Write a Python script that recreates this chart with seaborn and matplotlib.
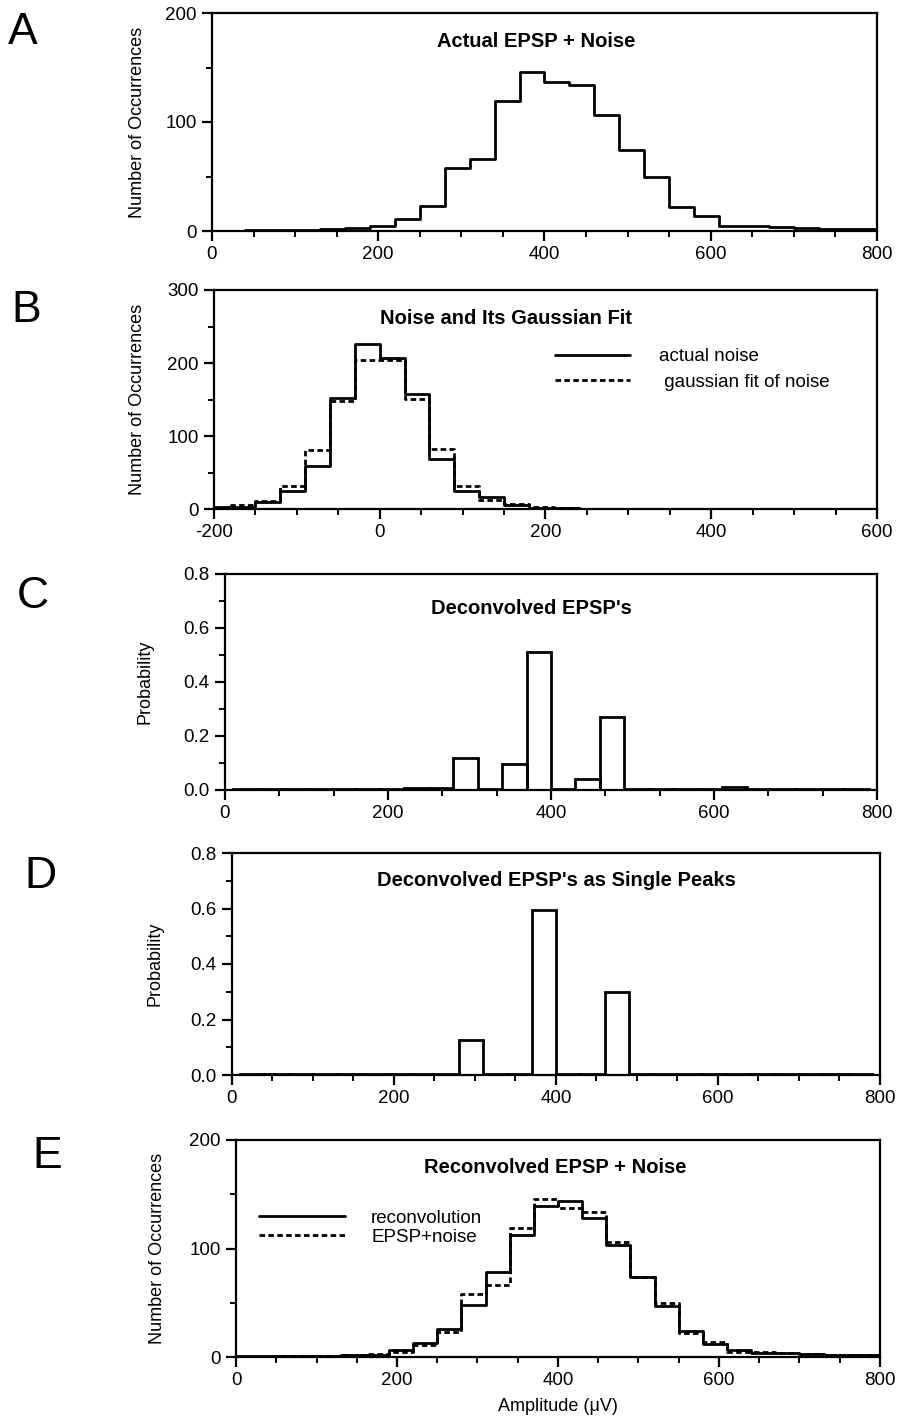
import matplotlib
matplotlib.use("Agg")
import matplotlib.pyplot as plt
from matplotlib.ticker import MultipleLocator, FormatStrFormatter
from matplotlib.lines import Line2D
import pandas as pd
import seaborn as sns

# ---------------- data ----------------
amp_edges = [-20, 10, 40, 70, 100, 130, 160, 190, 220, 250, 280, 310, 340, 370,
             400, 430, 460, 490, 520, 550, 580, 610, 640, 670, 700, 730, 760, 790, 820]
noise_edges = [-210, -180, -150, -120, -90, -60, -30, 0, 30, 60, 90, 120, 150, 180,
               210, 240, 270, 300, 330, 360, 390, 420, 450, 480, 510, 540, 570, 600]

# A / E: actual EPSP + noise counts
epsp_noise = [0, 0, 1, 1, 1, 2, 3, 5, 11, 23, 58, 66, 119, 146,
              137, 134, 106, 74, 50, 22, 14, 5, 5, 4, 3, 2, 2, 2]
# B: noise
actual_noise = [3, 3, 9, 25, 59, 152, 226, 207, 157, 69, 24, 17, 6, 2,
                1, 0, 0, 0, 0, 0, 0, 0, 0, 0, 0, 0, 0]
gaussian_fit = [2, 5, 11, 31, 81, 148, 204, 204, 151, 82, 31, 12, 7, 3,
                1, 0, 0, 0, 0, 0, 0, 0, 0, 0, 0, 0, 0]
# C: deconvolved EPSPs (probability)
deconvolved = [0.0, 0.003, 0.003, 0.003, 0.003, 0.003, 0.004, 0.005, 0.006, 0.006,
               0.12, 0.005, 0.095, 0.51, 0.005, 0.04, 0.27, 0.005, 0.005, 0.005,
               0.005, 0.012, 0.005, 0.005, 0.005, 0.005, 0.004, 0.0]
# D: deconvolved EPSPs as single peaks
single_peaks = [0.0, 0.003, 0.003, 0.003, 0.003, 0.003, 0.003, 0.003, 0.003, 0.003,
                0.126, 0.003, 0.003, 0.593, 0.003, 0.003, 0.30, 0.003, 0.003, 0.003,
                0.003, 0.003, 0.003, 0.003, 0.003, 0.003, 0.003, 0.0]
# E: reconvolution
reconvolution = [1, 1, 1, 1, 1, 2, 2, 6, 13, 26, 48, 78, 112, 139,
                 144, 128, 103, 74, 47, 24, 12, 6, 4, 4, 3, 2, 2, 2]

titles = ["Actual EPSP + Noise", "Noise and Its Gaussian Fit", "Deconvolved EPSP's",
          "Deconvolved EPSP's as Single Peaks", "Reconvolved EPSP + Noise"]
letters = ["A", "B", "C", "D", "E"]

# ---------------- style ----------------
sns.set_style("ticks")
plt.rcParams["font.family"] = ["Liberation Sans", "DejaVu Sans"]
plt.rcParams["axes.linewidth"] = 1.5
plt.rcParams["axes.unicode_minus"] = False
for k in ["text.color", "axes.labelcolor", "xtick.color", "ytick.color", "axes.edgecolor"]:
    plt.rcParams[k] = "black"

W, H = 904, 1426
fig = plt.figure(figsize=(W / 100, H / 100), dpi=100)

LW = 2.0
FS = 13.5


def add_axes(left, right, top, bottom):
    return fig.add_axes([left / W, 1 - bottom / H, (right - left) / W, (bottom - top) / H])


def hist(ax, edges, values, element, ls="-"):
    centers = [(a + b) / 2 for a, b in zip(edges[:-1], edges[1:])]
    df = pd.DataFrame({"x": centers, "w": values})
    sns.histplot(data=df, x="x", weights="w", bins=edges, element=element,
                 fill=False, color="black", linewidth=LW, linestyle=ls, ax=ax)


def style(ax, xlim, ylim, xmajor, xminor, ymajor, yminor, ylabel, ylx):
    ax.set_xlim(*xlim)
    ax.set_ylim(*ylim)
    ax.xaxis.set_major_locator(MultipleLocator(xmajor))
    ax.xaxis.set_minor_locator(MultipleLocator(xminor))
    ax.yaxis.set_major_locator(MultipleLocator(ymajor))
    ax.yaxis.set_minor_locator(MultipleLocator(yminor))
    ax.tick_params(which="major", direction="out", length=7, width=1.6,
                   labelsize=FS, colors="black", pad=4)
    ax.tick_params(which="minor", direction="out", length=4, width=1.4)
    for s in ax.spines.values():
        s.set_visible(True)
        s.set_color("black")
        s.set_linewidth(1.6)
    ax.set_xlabel("")
    ax.set_ylabel(ylabel, fontsize=13)
    ax.yaxis.set_label_coords(ylx, 0.5)


dash = (0, (2.0, 1.2))

# A
axA = add_axes(212, 877, 13, 231)
hist(axA, amp_edges, epsp_noise, "step")
style(axA, (0, 800), (0, 200), 200, 50, 100, 50, "Number of Occurrences", -0.099)

# B
axB = add_axes(214, 877, 290, 509)
hist(axB, noise_edges, actual_noise, "step")
hist(axB, noise_edges, gaussian_fit, "step", ls=dash)
style(axB, (-200, 600), (0, 300), 200, 50, 100, 50, "Number of Occurrences", -0.103)
hB = [Line2D([], [], color="black", lw=LW),
      Line2D([], [], color="black", lw=LW, linestyle=dash)]
axB.legend(hB, ["actual noise", " gaussian fit of noise"], loc="upper left",
           bbox_to_anchor=(0.515, 0.735), frameon=False, fontsize=FS,
           handlelength=4.0, handletextpad=1.5, labelspacing=0.45,
           borderpad=0, borderaxespad=0)

# C
axC = add_axes(225, 877, 574, 790)
hist(axC, amp_edges, deconvolved, "bars")
style(axC, (0, 800), (0, 0.8), 200, 200 / 3, 0.2, 0.1, "Probability", -0.11)
axC.yaxis.set_major_formatter(FormatStrFormatter("%.1f"))

# D
axD = add_axes(232, 880, 853, 1075)
hist(axD, amp_edges, single_peaks, "bars")
style(axD, (0, 800), (0, 0.8), 200, 50, 0.2, 0.1, "Probability", -0.106)
axD.yaxis.set_major_formatter(FormatStrFormatter("%.1f"))

# E
axE = add_axes(236, 880, 1140, 1357)
hist(axE, amp_edges, reconvolution, "step")
hist(axE, amp_edges, epsp_noise, "step", ls=dash)
style(axE, (0, 800), (0, 200), 200, 50, 100, 50, "Number of Occurrences", -0.109)
axE.set_xlabel("Amplitude (\u03bcV)", fontsize=13, labelpad=6)
hE = [Line2D([], [], color="black", lw=LW),
      Line2D([], [], color="black", lw=LW, linestyle=dash)]
axE.legend(hE, ["reconvolution", "EPSP+noise"], loc="upper left",
           bbox_to_anchor=(0.035, 0.68), frameon=False, fontsize=FS,
           handlelength=4.6, handletextpad=1.4, labelspacing=0.1,
           borderpad=0, borderaxespad=0)

# titles
title_pos = [(axA, 0.487, 0.87), (axB, 0.44, 0.87), (axC, 0.47, 0.84),
             (axD, 0.50, 0.875), (axE, 0.496, 0.875)]
for (ax, tx, ty), t in zip(title_pos, titles):
    ax.text(tx, ty, t, transform=ax.transAxes, ha="center", va="center",
            fontsize=14.5, fontweight="bold")

# panel letters
letter_pos = [(23, 33), (26, 310), (33, 597), (40, 876), (47, 1157)]
for (lx, ly), l in zip(letter_pos, letters):
    fig.text(lx / W, 1 - ly / H, l, ha="center", va="center", fontsize=32)

fig.savefig("out.png", dpi=100, facecolor="white")
